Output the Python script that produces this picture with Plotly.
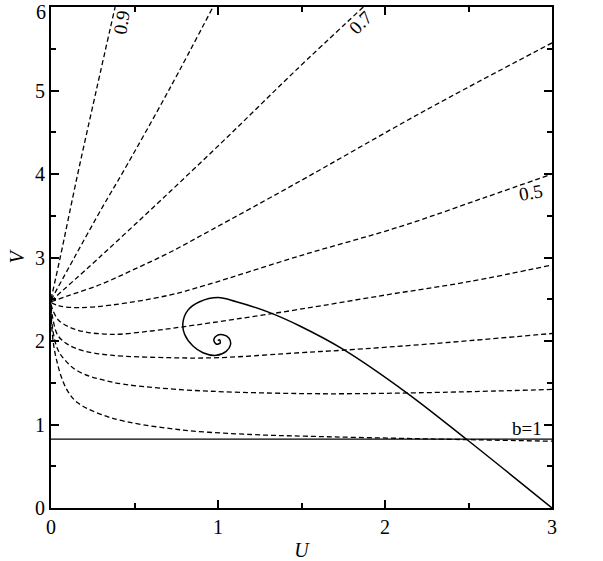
import plotly.graph_objects as go

# ---- data ----
b_labels = ["0.9", "0.8", "0.7", "0.6", "0.5", "0.4", "0.3", "0.2", "0.1"]

u_b09 = [0.0, 0.055, 0.16, 0.271, 0.384]
v_b09 = [2.50, 3.0, 4.0, 5.0, 6.0]

u_b08 = [0.0, 0.14, 0.31, 0.43, 0.71, 0.97]
v_b08 = [2.49, 3.0, 3.61, 4.02, 5.02, 6.0]

u_b07 = [0.0, 0.30, 0.66, 1.06, 1.46, 1.87]
v_b07 = [2.48, 3.02, 3.69, 4.45, 5.23, 6.0]

u_b06 = [0.0, 0.10, 0.30, 0.50, 0.71, 0.96, 1.46, 2.24, 3.0]
v_b06 = [2.47, 2.54, 2.68, 2.86, 3.06, 3.33, 3.88, 4.76, 5.57]

u_b05 = [0.0, 0.05, 0.16, 0.36, 0.71, 0.93, 1.49, 2.09, 2.6, 3.0]
v_b05 = [2.46, 2.42, 2.40, 2.43, 2.55, 2.67, 3.02, 3.37, 3.72, 4.0]

u_b04 = [0.0, 0.015, 0.05, 0.16, 0.36, 0.6, 0.79, 1.1, 1.49, 2.0, 2.5, 3.0]
v_b04 = [2.44, 2.35, 2.24, 2.13, 2.08, 2.12, 2.17, 2.26, 2.38, 2.55, 2.71, 2.91]

u_b03 = [0.0, 0.01, 0.04, 0.10, 0.20, 0.36, 0.71, 1.0, 1.49, 1.75, 2.3, 3.0]
v_b03 = [2.42, 2.28, 2.07, 1.96, 1.88, 1.83, 1.80, 1.80, 1.86, 1.89, 1.97, 2.09]

u_b02 = [0.0, 0.01, 0.04, 0.08, 0.16, 0.36, 0.76, 1.52, 2.2, 3.0]
v_b02 = [2.40, 2.14, 1.90, 1.78, 1.64, 1.51, 1.42, 1.37, 1.38, 1.42]

u_b01 = [0.0, 0.005, 0.02, 0.04, 0.06, 0.10, 0.16, 0.36, 0.76, 1.2, 1.52, 2.2, 3.0]
v_b01 = [2.36, 2.15, 1.90, 1.72, 1.58, 1.40, 1.26, 1.08, 0.94, 0.88, 0.86, 0.83, 0.80]

# horizontal b=1 line
u_b1 = [0.0, 3.0]
v_b1 = [0.825, 0.825]

# solid trajectory spiralling into (1, 2)
u_traj = [3.0, 2.49, 2.13, 1.75, 1.49, 1.31, 1.11, 1.0, 0.89, 0.82, 0.79,
          0.80, 0.85, 0.91, 0.989, 1.049, 1.075, 1.065, 1.029, 0.995, 0.975,
          0.989, 1.013, 1.009, 0.999]
v_traj = [0.0, 0.82, 1.38, 1.90, 2.18, 2.34, 2.47, 2.52, 2.47, 2.37, 2.22,
          2.08, 1.94, 1.86, 1.828, 1.876, 1.956, 2.036, 2.075, 2.067, 2.016,
          1.964, 1.976, 2.016, 2.004]

curve_u = [u_b09, u_b08, u_b07, u_b06, u_b05, u_b04, u_b03, u_b02, u_b01]
curve_v = [v_b09, v_b08, v_b07, v_b06, v_b05, v_b04, v_b03, v_b02, v_b01]

x_ticks = [0, 1, 2, 3]
y_ticks = [0, 1, 2, 3, 4, 5, 6]
y_ticktext = ["0", "1", "2", "3", "4", "5", ""]   # top label "6" placed below
y_top_label = "6"

FONT = "Liberation Serif"

fig = go.Figure()
for name, us, vs in zip(b_labels, curve_u, curve_v):
    fig.add_trace(go.Scatter(x=us, y=vs, mode="lines", name="b=" + name,
                             line=dict(color="black", width=1.3, dash="5px,3px",
                                       shape="spline", smoothing=1.0)))
# b=1 line drawn against the top (mirror) x axis, which shares the same range
fig.add_trace(go.Scatter(x=u_b1, y=v_b1, mode="lines", name="b=1", xaxis="x2",
                         line=dict(color="black", width=1.4)))
fig.add_trace(go.Scatter(x=u_traj, y=v_traj, mode="lines", name="trajectory",
                         line=dict(color="black", width=1.5, shape="spline",
                                   smoothing=1.0)))

ann_font = dict(family=FONT, size=19, color="black")
fig.add_annotation(x=0.42, y=5.82, text="0.9", showarrow=False, textangle=-80,
                   font=ann_font)
fig.add_annotation(x=1.855, y=5.81, text="0.7", showarrow=False, textangle=-45,
                   font=ann_font)
fig.add_annotation(x=2.876, y=3.78, text="0.5", showarrow=False, textangle=-10,
                   font=ann_font)
fig.add_annotation(x=2.85, y=0.95, text="b=1", showarrow=False, font=ann_font)
# top y tick label, nudged down so it stays inside the page like the reference
fig.add_annotation(x=0, xref="paper", xanchor="right", xshift=-3,
                   y=y_ticks[-1], yref="y", yanchor="middle", yshift=-5,
                   text=y_top_label, showarrow=False,
                   font=dict(family=FONT, size=20, color="black"))

axis_common = dict(showline=True, linecolor="black", linewidth=2, mirror="ticks",
                   ticks="inside", ticklen=8, tickwidth=1.5, tickcolor="black",
                   showgrid=False, zeroline=False, automargin=False,
                   ticklabeloverflow="allow",
                   tickfont=dict(family=FONT, size=20, color="black"))
minor_common = dict(ticks="inside", ticklen=5, tickwidth=1.5,
                    tickcolor="black", dtick=0.5, showgrid=False)

fig.update_layout(
    xaxis=dict(range=[0, 3], tickvals=x_ticks, ticktext=[str(t) for t in x_ticks],
               minor=minor_common,
               title=dict(text="<i>U</i>", font=dict(family=FONT, size=20, color="black"),
                          standoff=6),
               **axis_common),
    xaxis2=dict(range=[0, 3], overlaying="x", side="top", anchor="y",
                tickvals=x_ticks, showticklabels=False, showline=True,
                linecolor="black", linewidth=2, ticks="inside", ticklen=8,
                tickwidth=1.5, tickcolor="black", showgrid=False, zeroline=False,
                minor=minor_common),
    yaxis=dict(range=[0, 6], tickvals=y_ticks, ticktext=y_ticktext,
               minor=minor_common,
               title=dict(text="<i>V</i>", font=dict(family=FONT, size=20, color="black"),
                          standoff=5),
               **axis_common),
    width=603, height=561, showlegend=False,
    plot_bgcolor="white", paper_bgcolor="white",
    margin=dict(l=51, r=51, t=7, b=53, autoexpand=False),
)

fig.write_html("out.html", config={"displayModeBar": False},
               post_script="document.body.style.margin='0';"
                           "document.body.style.overflow='hidden';")
